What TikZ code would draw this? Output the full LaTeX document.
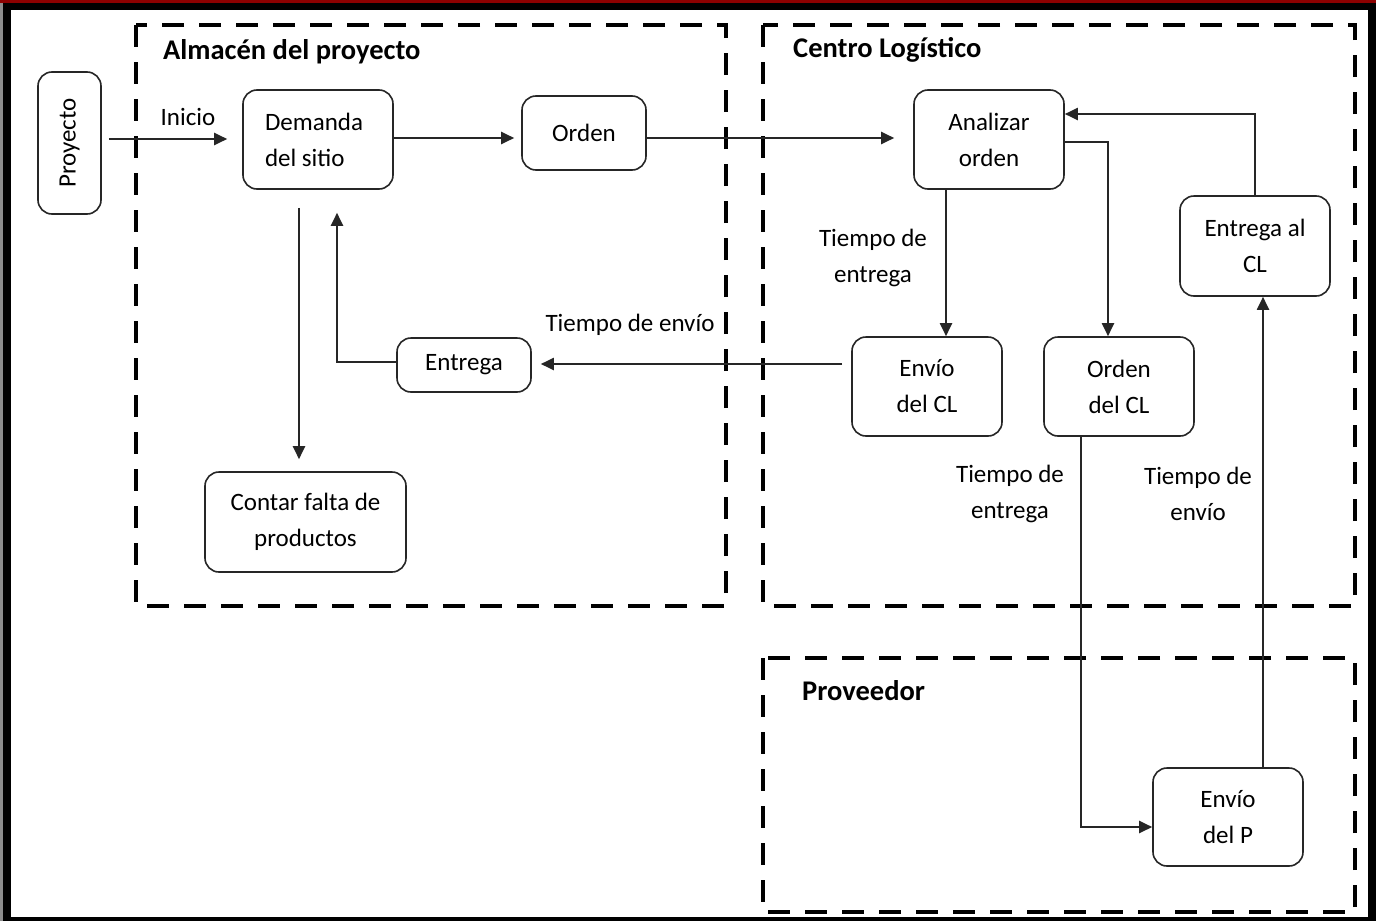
\documentclass[tikz,border=0pt]{standalone}
\usepackage{fontspec}
\setmainfont{Carlito}
\usetikzlibrary{arrows.meta}
\begin{document}
\begin{tikzpicture}[x=1pt,y=-1pt,
  box/.style={draw=black!85,line width=1.6pt,rounded corners=14pt,inner sep=0pt,align=center,
    font=\fontsize{25}{36}\selectfont},
  zone/.style={draw=black,line width=4.5pt,dash pattern=on 22pt off 15pt},
  title/.style={anchor=west,inner sep=0pt,font=\fontsize{28.5}{32}\selectfont\bfseries},
  lbl/.style={inner sep=0pt,align=center,font=\fontsize{25}{36}\selectfont},
  arr/.style={draw=black!85,line width=2pt,-{Triangle[length=13pt,width=12pt]}},
  ln/.style={draw=black!85,line width=2pt}]
\useasboundingbox (0,0) rectangle (1376,921);
% frame
\fill[black] (0,0) rectangle (1376,921);
\fill[black!45] (0,0) rectangle (3,921);
\fill[white] (11,10) rectangle (1368,917);
\fill[red!55!black] (0,0) rectangle (1376,3);
% zones
\draw[zone] (136,25) rectangle (726,606);
\draw[zone] (763,25) rectangle (1355,606);
\draw[zone] (763,658) rectangle (1355,912);
\node[title] (t1) at (163,52) {Almacén del proyecto};
\node[title] (t2) at (793,50) {Centro Logístico};
\node[title] (t3) at (802,691) {Proveedor};
% nodes
\node[box,minimum width=63pt,minimum height=142pt] (proy) at (69.5,143) {\rotatebox{90}{Proyecto}};
\node[box,minimum width=150pt,minimum height=99pt,align=flush left,text width=106pt] (dem) at (318,139.5) {Demanda\\del sitio};
\node[box,minimum width=124pt,minimum height=74pt] (ord) at (584,133) {Orden};
\node[box,minimum width=150pt,minimum height=99pt] (ana) at (989,139.5) {Analizar\\orden};
\node[box,minimum width=150pt,minimum height=100pt] (ecl) at (1255,246) {Entrega al\\CL};
\node[box,minimum width=150pt,minimum height=99pt] (envcl) at (927,386.5) {Envío\\del CL};
\node[box,minimum width=150pt,minimum height=99pt] (ordcl) at (1119,386.5) {Orden\\del CL};
\node[box,minimum width=134pt,minimum height=54pt] (ent) at (464,365) {Entrega};
\node[box,minimum width=201pt,minimum height=100pt] (cont) at (305.5,522) {Contar falta de\\productos};
\node[box,minimum width=150pt,minimum height=98pt] (envp) at (1228,817) {Envío\\del P};
% labels
\node[lbl] (l1) at (188,117) {Inicio};
\node[lbl] (l2) at (873,258) {Tiempo de\\entrega};
\node[lbl] (l3) at (630,325) {Tiempo de envío};
\node[lbl] (l4) at (1010,494) {Tiempo de\\entrega};
\node[lbl] (l5) at (1198,494) {Tiempo de\\envío};
% connectors
\draw[arr,shorten <=7pt,shorten >=15pt] (proy.east |- 0,139) -- (dem.west |- 0,139);
\draw[arr,shorten >=7pt] (dem.east |- 0,138) -- (ord.west |- 0,138);
\draw[arr,shorten >=19pt] (ord.east |- 0,138) -- (ana.west |- 0,138);
\draw[arr] (ana.south -| 946,0) -- (envcl.north -| 946,0);
\draw[arr] (ana.east |- 0,142) -| (ordcl.north -| 1108,0);
\draw[arr] (ecl.north) |- (ana.east |- 0,114);
\draw[arr,shorten <=9pt,shorten >=9pt] (envcl.west |- 0,364) -- (ent.east |- 0,364);
\draw[arr,shorten >=23pt] (ent.west |- 0,362) -| (dem.south -| 337,0);
\draw[arr,shorten <=18pt,shorten >=12pt] (dem.south -| 299,0) -- (cont.north -| 299,0);
\draw[arr] (ordcl.south -| 1081,0) |- (envp.west |- 0,827);
\draw[arr] (envp.north -| 1263,0) -- (ecl.south -| 1263,0);
\end{tikzpicture}
\end{document}
